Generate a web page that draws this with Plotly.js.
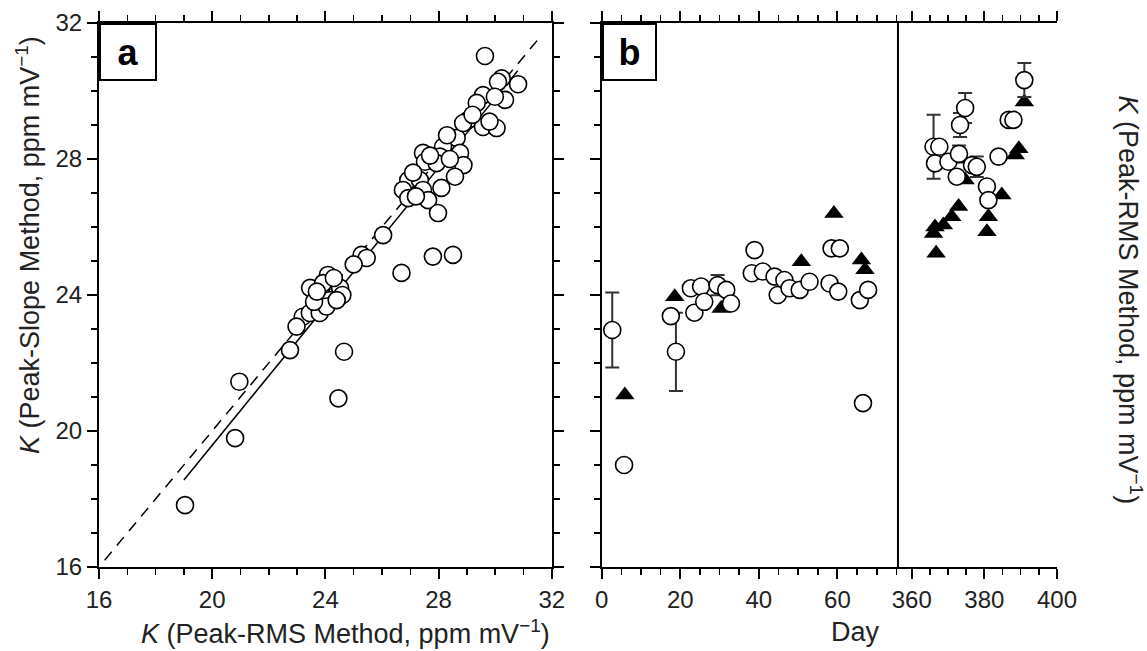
<!DOCTYPE html>
<html>
<head>
<meta charset="utf-8">
<script src="https://cdn.plot.ly/plotly-3.0.1.min.js"></script>
<style>html,body{margin:0;padding:0;background:#fff;}#chart{width:1147px;height:651px;}</style>
</head>
<body>
<div id="chart"></div>
<script>
// ---------- Panel a: K (Peak-RMS) vs K (Peak-Slope) ----------
const rmsA = [29.64, 30.23, 30.81, 30.10, 29.57, 29.35, 30.35, 29.99, 29.05, 29.57, 30.05, 28.64, 28.87,
  27.45, 27.52, 28.16, 28.05, 28.76, 28.88, 28.58, 27.93, 26.93, 26.74, 27.34, 27.45, 28.10, 27.63, 26.93,
  27.98, 26.04, 25.28, 25.46, 26.69, 27.80, 28.51, 24.09, 23.46, 23.92, 24.52, 24.16, 24.60, 23.20, 23.45,
  23.80, 24.04, 24.40, 22.98, 23.60, 24.30, 23.70, 22.75, 20.96, 20.81, 19.04, 24.66, 24.46, 27.10, 27.70,
  28.30, 29.20, 29.80, 28.40, 27.20, 25.00];
const slopeA = [31.03, 30.37, 30.20, 30.27, 29.88, 29.65, 29.74, 29.83, 29.15, 28.94, 28.91, 28.62, 29.06,
  28.18, 27.92, 28.36, 28.07, 28.18, 27.82, 27.48, 27.88, 27.38, 27.09, 27.38, 27.09, 27.15, 26.79, 26.85,
  26.41, 25.76, 25.18, 25.09, 24.65, 25.13, 25.18, 24.59, 24.21, 24.35, 24.21, 23.85, 24.00, 23.36, 23.47,
  23.47, 23.66, 23.85, 23.07, 23.80, 24.50, 24.10, 22.38, 21.45, 19.79, 17.82, 22.33, 20.96, 27.60, 28.10,
  28.70, 29.30, 29.10, 28.00, 26.90, 24.90];
const fitX = [19.0, 30.8];
const fitY = [18.56, 30.6];
const unityX = [16.2, 31.5];
const unityY = [16.2, 31.5];

// ---------- Panel b: K vs Day (two segments of the broken axis) ----------
const circDay1 = [2.7, 5.7, 17.6, 18.9, 22.7, 23.6, 25.3, 26.1, 29.5, 31.7, 32.9, 38.9, 38.2, 41.0, 44.0,
  44.8, 46.5, 47.8, 50.4, 52.9, 58.0, 58.5, 60.2, 60.6, 65.7, 66.5, 67.8];
const circK1 = [22.97, 19.00, 23.38, 22.33, 24.20, 23.48, 24.25, 23.80, 24.29, 24.15, 23.75, 25.32, 24.64,
  24.69, 24.54, 24.00, 24.44, 24.20, 24.15, 24.39, 24.34, 25.37, 24.10, 25.37, 23.85, 20.82, 24.15];
const circErr1 = [1.1, null, null, 1.15, null, null, null, null, 0.3, null, null, null, null, null, null,
  null, null, null, null, null, null, null, null, null, null, null, null];
const triDay1 = [5.9, 18.6, 30.4, 50.8, 59.1, 66.1, 67.0];
const triK1 = [21.06, 23.95, 23.60, 24.98, 26.40, 25.03, 24.74];

const circDay2 = [366.0, 366.4, 367.6, 370.1, 372.4, 373.0, 373.3, 374.7, 376.6, 377.9, 380.7, 381.1,
  383.9, 386.7, 388.0, 391.0];
const circK2 = [28.36, 27.87, 28.36, 27.92, 27.48, 28.15, 29.00, 29.50, 27.82, 27.77, 27.19, 26.79,
  28.07, 29.15, 29.15, 30.32];
const circErr2 = [0.94, null, null, null, null, 0.25, 0.35, 0.44, null, 0.3, null, null, null, null, null, 0.5];
const triDay2 = [366.0, 366.4, 366.7, 368.7, 371.0, 372.9, 374.7, 380.7, 381.1, 384.8, 388.5, 389.5, 391.0];
const triK2 = [25.81, 26.00, 25.23, 26.06, 26.30, 26.60, 27.38, 25.86, 26.30, 26.94, 28.12, 28.30, 29.68];

// ---------- Text ----------
const titleRMS = '<i>K</i> (Peak-RMS Method, ppm mV<sup>\u22121</sup>)';
const titleSlope = '<i>K</i> (Peak-Slope Method, ppm mV<sup>\u22121</sup>)';
const titleDay = 'Day';

const FONT = 'Liberation Sans, Arial, Helvetica, sans-serif';
const circMarker = {symbol: 'circle', size: 17, color: 'white', line: {color: 'black', width: 1.6}};
const triMarker = {symbol: 'triangle-up', size: 17, color: 'black', line: {color: 'black', width: 0}};
const errStyle = (arr) => ({type: 'data', array: arr, visible: true, color: '#333', thickness: 2, width: 7});

const traces = [
  {x: unityX, y: unityY, xaxis: 'x', yaxis: 'y', mode: 'lines', line: {color: 'black', width: 1.5, dash: '11px,8px'}, hoverinfo: 'skip'},
  {x: fitX, y: fitY, xaxis: 'x', yaxis: 'y', mode: 'lines', line: {color: 'black', width: 1.5}, hoverinfo: 'skip'},
  {x: rmsA, y: slopeA, xaxis: 'x', yaxis: 'y', mode: 'markers', marker: circMarker},
  {x: triDay1, y: triK1, xaxis: 'x2', yaxis: 'y2', mode: 'markers', marker: triMarker},
  {x: circDay1, y: circK1, xaxis: 'x2', yaxis: 'y2', mode: 'markers', marker: circMarker, error_y: errStyle(circErr1)},
  {x: triDay2, y: triK2, xaxis: 'x3', yaxis: 'y2', mode: 'markers', marker: triMarker},
  {x: circDay2, y: circK2, xaxis: 'x3', yaxis: 'y2', mode: 'markers', marker: circMarker, error_y: errStyle(circErr2)}
];

const tickFont = {family: FONT, size: 24, color: '#222'};
function ax(extra) {
  return Object.assign({
    showline: true, linewidth: 2, linecolor: 'black', ticks: 'outside', ticklen: 10, tickwidth: 2,
    tickcolor: 'black', mirror: 'ticks', showgrid: false, zeroline: false, tickfont: tickFont, fixedrange: true
  }, extra);
}

const titleFont = {family: FONT, size: 27, color: '#222'};
const layout = {
  width: 1147, height: 651,
  margin: {l: 99, r: 90, t: 23, b: 84},
  paper_bgcolor: 'white', plot_bgcolor: 'white',
  showlegend: false,
  font: {family: FONT, color: '#222'},
  xaxis: ax({domain: [0, 0.4726], range: [16, 32], anchor: 'y', tickvals: [16, 20, 24, 28, 32],
    minor: {dtick: 1, ticklen: 6, tickwidth: 1.5, tickcolor: 'black', ticks: 'outside'}}),
  yaxis: ax({domain: [0, 1], range: [16, 32], anchor: 'x', tickvals: [16, 20, 24, 28, 32],
    minor: {dtick: 1, ticklen: 6, tickwidth: 1.5, tickcolor: 'black', ticks: 'outside'}}),
  xaxis2: ax({domain: [0.5247, 0.834], range: [0, 75.4], anchor: 'y2', tickvals: [0, 20, 40, 60],
    minor: {dtick: 5, ticklen: 6, tickwidth: 1.5, tickcolor: 'black', ticks: 'outside'}}),
  xaxis3: ax({domain: [0.834, 1], range: [356.2, 400], anchor: 'y2', tickvals: [360, 380, 400],
    minor: {tick0: 360, dtick: 5, ticklen: 6, tickwidth: 1.5, tickcolor: 'black', ticks: 'outside'}}),
  yaxis2: ax({domain: [0, 1], range: [16, 32], anchor: 'x2', mirror: false, showticklabels: false,
    tickvals: [16, 20, 24, 28, 32],
    minor: {dtick: 1, ticklen: 6, tickwidth: 1.5, tickcolor: 'black', ticks: 'outside'}}),
  yaxis3: ax({domain: [0, 1], range: [16, 32], anchor: 'x3', overlaying: 'y2', side: 'right', mirror: false,
    tickvals: [16, 20, 24, 28, 32],
    minor: {dtick: 1, ticklen: 6, tickwidth: 1.5, tickcolor: 'black', ticks: 'outside'}}),
  shapes: [
    {type: 'line', xref: 'x3 domain', yref: 'y2 domain', x0: 0, x1: 0, y0: 0, y1: 1,
      line: {color: 'black', width: 2}}
  ],
  annotations: [
    {xref: 'x domain', yref: 'y domain', x: 0, y: 1, xanchor: 'left', yanchor: 'top', showarrow: false,
      text: '<b>a</b>', font: {family: FONT, size: 36, color: 'black'}, bordercolor: 'black', borderwidth: 2,
      borderpad: 0, width: 54, height: 54, bgcolor: 'white'},
    {xref: 'x2 domain', yref: 'y2 domain', x: 0, y: 1, xanchor: 'left', yanchor: 'top', showarrow: false,
      text: '<b>b</b>', font: {family: FONT, size: 36, color: 'black'}, bordercolor: 'black', borderwidth: 2,
      borderpad: 0, width: 51, height: 54, bgcolor: 'white'},
    {xref: 'paper', yref: 'paper', x: 0.2568, y: -0.1195, xanchor: 'center', yanchor: 'middle', showarrow: false,
      text: titleRMS, font: titleFont},
    {xref: 'paper', yref: 'paper', x: 0.790, y: -0.1195, xanchor: 'center', yanchor: 'middle', showarrow: false,
      text: titleDay, font: titleFont},
    {xref: 'paper', yref: 'paper', x: -0.0741, y: 0.592, xanchor: 'center', yanchor: 'middle', showarrow: false,
      textangle: -90, text: titleSlope, font: titleFont},
    {xref: 'paper', yref: 'paper', x: 1.0762, y: 0.49, xanchor: 'center', yanchor: 'middle', showarrow: false,
      textangle: 90, text: titleRMS, font: titleFont}
  ]
};

Plotly.newPlot('chart', traces, layout, {staticPlot: true, displayModeBar: false});
</script>
</body>
</html>
